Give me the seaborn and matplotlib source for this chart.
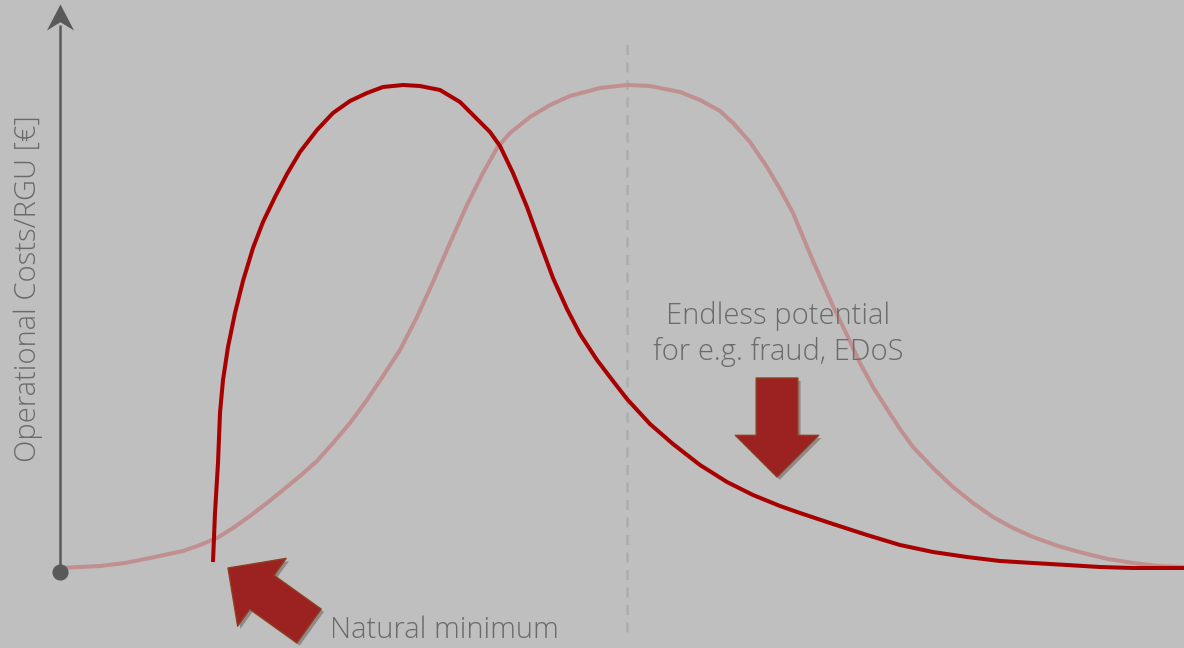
import matplotlib
matplotlib.use("Agg")
import matplotlib.pyplot as plt
from matplotlib.patches import FancyArrowPatch
from matplotlib.path import Path
from matplotlib import font_manager
import matplotlib.patheffects as pe
import seaborn as sns

# Operational cost per RGU over time (arbitrary units, no scale shown)
cost_time = [153, 155, 158, 160, 163, 168, 175, 183, 193, 203, 215, 227, 240,
             257, 273, 290, 307, 323, 343, 360, 380, 400, 420, 430, 440, 453,
             467, 480, 493, 507, 520, 537, 553, 567, 590, 613, 640, 667, 693,
             720, 740, 773, 807, 840, 873, 907, 940, 973, 1007, 1040, 1073, 1124]
cost_value = [8, 57, 107, 157, 190, 223, 257, 289, 322, 348, 373, 396, 418,
              440, 457, 469, 477, 483, 485, 484, 480, 468, 448, 438, 424, 397,
              363, 327, 292, 261, 236, 210, 189, 171, 146, 126, 105, 88, 75,
              64, 57, 46, 35, 25, 18, 13, 9, 7, 5, 3, 2, 2]

# Reference (bell-shaped) cost curve
ref_time = [0, 20, 40, 65, 90, 123, 140, 157, 173, 190, 207, 223, 240, 257, 273,
            290, 307, 323, 340, 357, 373, 390, 407, 423, 437, 450, 470, 490, 510,
            540, 567, 590, 620, 640, 660, 673, 690, 707, 720, 733, 753, 773, 787,
            800, 813, 827, 840, 853, 873, 893, 913, 933, 953, 973, 998, 1023, 1048,
            1073, 1098, 1124]
ref_value = [2, 3, 4, 7, 12, 19, 25, 32, 42, 54, 67, 80, 94, 109, 127,
             147, 170, 194, 220, 253, 288, 327, 365, 397, 422, 437, 453, 465, 474,
             482, 485, 484, 478, 470, 459, 447, 428, 403, 381, 357, 309, 264, 235,
             207, 183, 161, 141, 123, 102, 83, 67, 53, 42, 33, 24, 17, 11,
             7, 4, 3]

ref_peak_time = 567
y_label = "Operational Costs/RGU [€]"
note_fraud = "Endless potential\nfor e.g. fraud, EDoS"
note_min = "Natural minimum"

BG = "#bfbfbf"
DARK_RED = "#a80000"
PALE_RED = "#c09090"
TEXT = "#6a6a6a"
AXIS = "#595959"
ARROW_FILL = "#9c2222"
ARROW_EDGE = "#8c4020"

sns.set_theme(style="white", rc={"axes.facecolor": BG, "figure.facecolor": BG})


def pick_light_family(candidates):
    for fam in candidates:
        for f in font_manager.fontManager.ttflist:
            if f.name == fam and isinstance(f.weight, int) and f.weight <= 300:
                return fam
    return candidates[0]


FAMILY = pick_light_family(["Open Sans", "Lato", "Roboto", "Inter", "Noto Sans"])
plt.rcParams["font.family"] = [FAMILY, "DejaVu Sans"]

fig = plt.figure(figsize=(11.84, 6.48), dpi=100)
ax = fig.add_axes([0, 0, 1, 1])
ax.set_facecolor(BG)
ax.set_xlim(-60, 1124)
ax.set_ylim(-78, 570)

# dashed marker at the peak of the reference curve
ax.vlines(ref_peak_time, -62, 528, colors="#adadad", linewidth=1.8,
          linestyles=(0, (4, 3)), zorder=1)

sns.lineplot(x=ref_time, y=ref_value, ax=ax, color=PALE_RED, linewidth=2.9,
             estimator=None, sort=False, zorder=2, solid_capstyle="butt")
sns.lineplot(x=cost_time, y=cost_value, ax=ax, color=DARK_RED, linewidth=2.9,
             estimator=None, sort=False, zorder=3, solid_capstyle="butt")

# vertical cost axis: shaft, stealth-style arrow head and origin dot
ax.plot([0, 0], [-2, 545], color=AXIS, linewidth=1.8, zorder=4,
        solid_capstyle="butt")
head = Path([(0, 12.5), (-13, -12.5), (0, -4.5), (13, -12.5), (0, 12.5)],
            [Path.MOVETO, Path.LINETO, Path.LINETO, Path.LINETO, Path.CLOSEPOLY])
ax.plot([0], [553], marker=head, markersize=19.5, color=AXIS,
        markeredgewidth=0, zorder=5)
ax.scatter([0], [-2], s=135, color=AXIS, zorder=5, linewidths=0)

ax.text(-32, 281, y_label, rotation=90, ha="center", va="center",
        fontsize=21, color=TEXT, fontweight="light")

ax.text(718, 236, note_fraud, ha="center", va="center", fontsize=21,
        color=TEXT, fontweight="light", linespacing=1.3)
ax.text(270, -68, note_min, ha="left", va="baseline", fontsize=21,
        color=TEXT, fontweight="light")

# block arrows
shadow = [pe.SimplePatchShadow(offset=(2, -2), alpha=0.3), pe.Normal()]
block_style = "simple,head_length=30,head_width=60,tail_width=30"
for tail, tip in [((717, 192), (717, 93)), ((249, -56), (168, 2))]:
    arrow = FancyArrowPatch(tail, tip, arrowstyle=block_style, mutation_scale=1,
                            shrinkA=0, shrinkB=0, facecolor=ARROW_FILL,
                            edgecolor=ARROW_EDGE, linewidth=1.0, zorder=6)
    arrow.set_path_effects(shadow)
    ax.add_patch(arrow)

ax.axis("off")
fig.savefig("out.png", dpi=100, facecolor=BG)
